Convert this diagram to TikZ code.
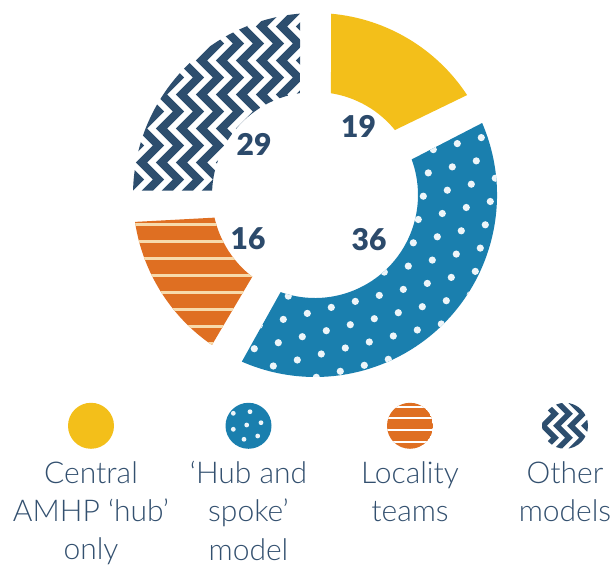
\documentclass[tikz,border=0pt]{standalone}
\usepackage{fontspec}
\setmainfont{Lato}
\newfontfamily\lightfont{Lato Light}
\newfontfamily\heavyfont{Lato Black}
\definecolor{cyellow}{HTML}{F3BF1A}
\definecolor{cblue}{HTML}{1A7FAE}
\definecolor{corange}{HTML}{DF6F22}
\definecolor{cnavy}{HTML}{2D4E6E}
\definecolor{ccream}{HTML}{F7DAAB}
\definecolor{cnum}{HTML}{2C4A6B}
\definecolor{ctext}{HTML}{33506F}
\begin{document}
\begin{tikzpicture}[x=1pt,y=1pt,line join=round,
 num/.style={font=\heavyfont\fontsize{30}{30}\selectfont,text=cnum,inner sep=0pt},
 leg/.style={font=\lightfont\fontsize{30}{38.3}\selectfont,text=ctext,align=center,anchor=north,inner sep=0pt},
 zig/.style={draw=cnavy,line width=8,line join=miter}]
 \useasboundingbox (0,0) rectangle (614,565);
 \begin{scope}[shift={(315,370)}]
 \def\ro{182} % outer radius
 \def\ri{103} % inner radius
 % Central AMHP hub only
 \fill[cyellow] (84.9:\ro) arc[start angle=84.9,end angle=33.3,radius=\ro] -- (39.1:\ri) arc[start angle=39.1,end angle=81.1,radius=\ri] -- cycle;
 % hub and spoke model
 \begin{scope}
 \clip (23.3:\ro) arc[start angle=23.3,end angle=-113.7,radius=\ro] -- (-109.5:\ri) arc[start angle=-109.5,end angle=20.2,radius=\ri] -- cycle;
 \fill[cblue] (-200,-200) rectangle (200,200);
 \foreach \i in {-6,...,12} \foreach \j in {-12,...,6}
 \fill[white!92!cblue] ({-36.7+24*\i-5*\j},{-147.7+6*\i-23.3*\j}) circle (3.6);
 \end{scope}
 % locality teams
 \begin{scope}
 \clip (-124.5:\ro) arc[start angle=-124.5,end angle=-171.5,radius=\ro] -- (-167.3:\ri) arc[start angle=-167.3,end angle=-127.5,radius=\ri] -- cycle;
 \fill[corange] (-200,-200) rectangle (0,0);
 \foreach \k in {0,...,9}
 \draw[ccream,line width=2.5] (-200,{-29.3-17*\k}) -- (-20,{-29.3-17*\k});
 \end{scope}
 % other models
 \begin{scope}
 \clip (178.6:\ro) arc[start angle=178.6,end angle=94.7,radius=\ro] -- (98.4:\ri) arc[start angle=98.4,end angle=177.6,radius=\ri] -- cycle;
 \foreach \k in {0,...,10}
 \draw[zig] ({-205+20*\k},-10) \foreach \m in {1,...,7} { -- ++(-8.5,8.5) -- ++(17,17) -- ++(-8.5,8.5)};
 \end{scope}
 \end{scope}
 % numbers
 \node[num] (n19) at (358.5,439) {19};
 \node[num] (n29) at (254,420.5) {29};
 \node[num] (n16) at (248,326) {16};
 \node[num] (n36) at (369,325.5) {36};
 % legend
 \fill[cyellow] (91,139.2) circle (23);
 \begin{scope}[shift={(248.5,139.2)}]
 \fill[cblue] (0,0) circle (23);
 \foreach \p in {(-15.2,12.5),(1.5,14.1),(12.5,3.1),(-1.8,0.8),(-15.2,-3.5),(9.2,-10.2),(-4.5,-13.5)}
 \fill[white!92!cblue] \p circle (2.4);
 \end{scope}
 \begin{scope}[shift={(410,139.2)}]
 \clip (0,0) circle (23);
 \fill[corange] (0,0) circle (23);
 \foreach \y in {19.1,7.5,-4.2,-15.9}
 \draw[white,line width=1.8] (-25,\y) -- (25,\y);
 \end{scope}
 \begin{scope}[shift={(565,139.2)}]
 \clip (0,0) circle (23);
 \foreach \k in {0,...,4}
 \draw[zig,line width=5.5] ({-30+14*\k},-30) \foreach \m in {1,...,3} { -- ++(-6,6) -- ++(12,12) -- ++(-6,6)};
 \end{scope}
 \node[leg] (central) at (91,104) {Central\\AMHP ‘hub’\\only};
 \node[leg] (hubspoke) at (248.5,104) {‘Hub and\\spoke’\\model};
 \node[leg] (locality) at (410,104) {Locality\\teams};
 \node[leg] (other) at (565,104) {Other\\models};
\end{tikzpicture}
\end{document}
